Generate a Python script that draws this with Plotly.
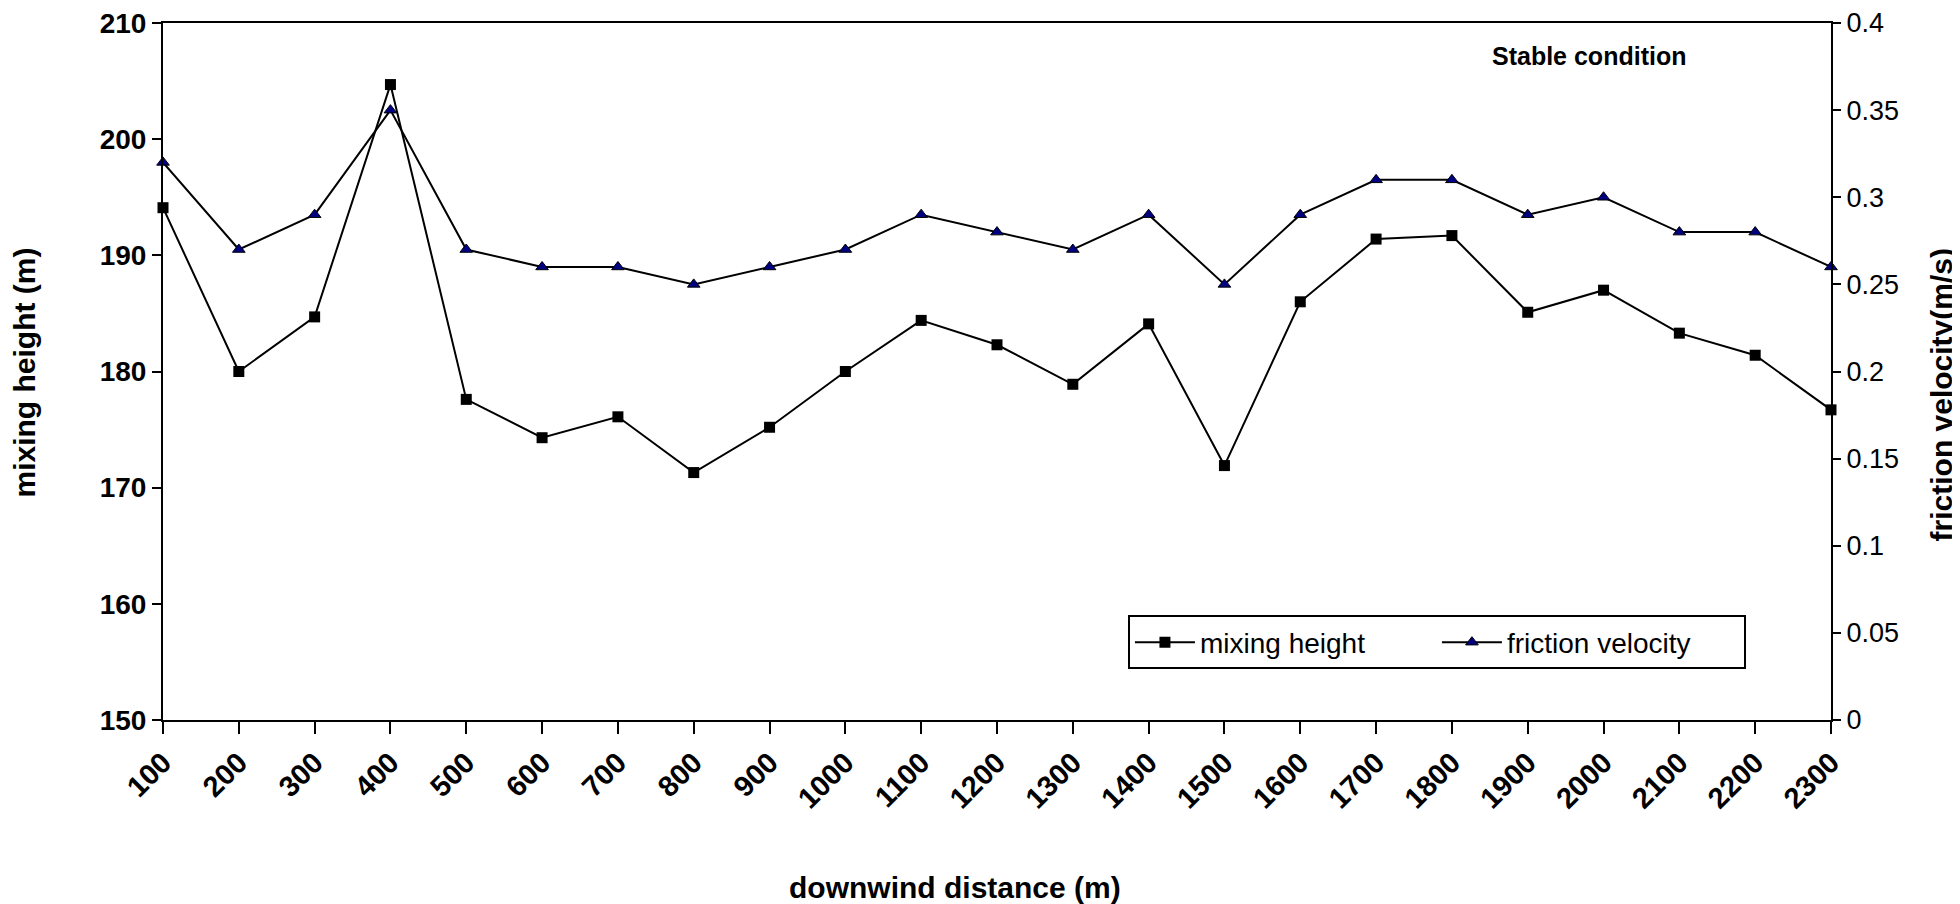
import plotly.graph_objects as go

# downwind distance categories (m)
distance = [str(d) for d in range(100, 2400, 100)]

# mixing height (m), left axis
mixing_height = [194.1, 180.0, 184.7, 204.7, 177.6, 174.3, 176.1, 171.3, 175.2, 180.0,
                 184.4, 182.3, 178.9, 184.1, 171.9, 186.0, 191.4, 191.7, 185.1, 187.0,
                 183.3, 181.4, 176.7]

# friction velocity (m/s), right axis
friction_velocity = [0.32, 0.27, 0.29, 0.35, 0.27, 0.26, 0.26, 0.25, 0.26, 0.27,
                     0.29, 0.28, 0.27, 0.29, 0.25, 0.29, 0.31, 0.31, 0.29, 0.30,
                     0.28, 0.28, 0.26]

FONT = "Liberation Sans, Arial, sans-serif"

fig = go.Figure()

fig.add_trace(go.Scatter(
    x=distance, y=mixing_height, name="mixing height",
    mode="lines+markers", cliponaxis=False,
    line=dict(color="black", width=2),
    marker=dict(symbol="square", size=11, color="black"),
))

fig.add_trace(go.Scatter(
    x=distance, y=friction_velocity, name="friction velocity", yaxis="y2",
    mode="lines+markers", cliponaxis=False,
    line=dict(color="black", width=2),
    marker=dict(symbol="triangle-up", size=11, color="#000080",
                line=dict(color="black", width=1)),
))

axis_common = dict(showline=True, linecolor="black", linewidth=2, showgrid=False,
                   zeroline=False, ticks="outside", tickcolor="black", tickwidth=2,
                   ticklabeloverflow="allow", automargin=False)

fig.update_layout(
    width=1960, height=904,
    margin=dict(l=155, r=137, t=15, b=192, autoexpand=False),
    plot_bgcolor="white", paper_bgcolor="white",
    font=dict(family=FONT, color="black"),
    showlegend=True,
    xaxis=dict(**axis_common, type="category", range=[0, 22], mirror=True,
               ticklen=12, tickangle=-45,
               tickfont=dict(size=29, weight="bold")),
    yaxis=dict(**axis_common, range=[150, 210], dtick=10, ticklen=9,
               tickfont=dict(size=28, weight="bold")),
    yaxis2=dict(**axis_common, overlaying="y", side="right", anchor="x",
                range=[0, 0.4], dtick=0.05, ticklen=8,
                tickfont=dict(size=27)),
    legend=dict(orientation="h", x=0.5785, y=0.150, xanchor="left", yanchor="top",
                bgcolor="white", bordercolor="black", borderwidth=2,
                font=dict(size=28), itemwidth=60, entrywidth=232),
)

notes = [
    ("Stable condition", 0.855, 0.9527, 0, 25),
    ("downwind distance (m)", 0.475, -0.2407, 0, 30),
    ("mixing height (m)", -0.0833, 0.4986, -90, 30),
    ("friction velocity(m/s)", 1.0665, 0.467, -90, 30),
]
for text, x, y, angle, size in notes:
    fig.add_annotation(text=text, xref="paper", yref="paper", x=x, y=y,
                       xanchor="center", yanchor="middle", textangle=angle,
                       showarrow=False, font=dict(size=size, weight="bold"))

fig.write_html("out.html")
